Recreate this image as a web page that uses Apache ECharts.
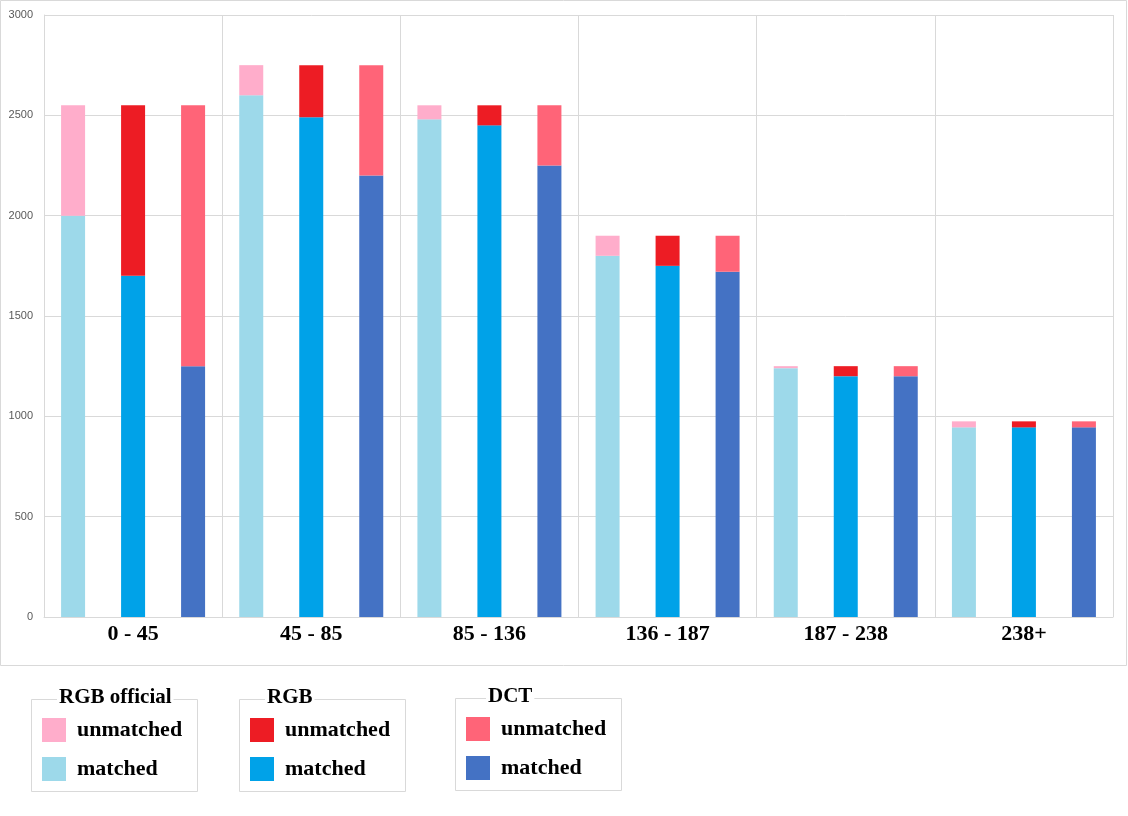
<!DOCTYPE html>
<html>
<head>
<meta charset="utf-8">
<script src="https://cdn.jsdelivr.net/npm/echarts@6/dist/echarts.min.js"></script>
<style>
  html, body { margin: 0; padding: 0; background: #fff; }
  #chart { width: 1128px; height: 816px; }
</style>
</head>
<body>
<div id="chart"></div>
<script>
const categories = ['0 - 45', '45 - 85', '85 - 136', '136 - 187', '187 - 238', '238+'];
const yTicks = [0, 500, 1000, 1500, 2000, 2500, 3000];

const officialMatched   = [2000, 2600, 2480, 1800, 1240, 945];
const officialUnmatched = [550, 150, 70, 100, 10, 30];
const rgbMatched        = [1700, 2490, 2450, 1750, 1200, 945];
const rgbUnmatched      = [850, 260, 100, 150, 50, 30];
const dctMatched        = [1250, 2200, 2250, 1720, 1200, 945];
const dctUnmatched      = [1300, 550, 300, 180, 50, 30];

const groupTitles = ['RGB official', 'RGB', 'DCT'];

const colors = {
  offU: '#FFADCB', offM: '#9DD9EA',
  rgbU: '#ED1C24', rgbM: '#00A2E8',
  dctU: '#FF6478', dctM: '#4472C4'
};

const serif = '"Liberation Serif", "DejaVu Serif", serif';
const grid = '#d9d9d9';

function bar(name, stack, data, color) {
  return {
    name: name, type: 'bar', stack: stack, data: data,
    barWidth: 24, barGap: '150%',
    itemStyle: { color: color },
    emphasis: { disabled: true }
  };
}

const series = [
  bar('RGB official matched', 'off', officialMatched, colors.offM),
  bar('RGB official unmatched', 'off', officialUnmatched, colors.offU),
  bar('RGB matched', 'rgb', rgbMatched, colors.rgbM),
  bar('RGB unmatched', 'rgb', rgbUnmatched, colors.rgbU),
  bar('DCT matched', 'dct', dctMatched, colors.dctM),
  bar('DCT unmatched', 'dct', dctUnmatched, colors.dctU)
];

const boxLefts = [31, 239, 455];
const boxTops = [699, 699, 698];
const titleOffsets = [28, 28, 33];

const legends = groupTitles.map((t, i) => ({
  orient: 'vertical',
  left: boxLefts[i] + 11,
  top: boxTops[i] + 19,
  padding: 0,
  itemWidth: 24,
  itemHeight: 24,
  itemGap: 15,
  icon: 'rect',
  selectedMode: false,
  data: [t + ' unmatched', t + ' matched'],
  formatter: name => name.split(' ').pop(),
  textStyle: {
    fontFamily: serif, fontWeight: 'bold', fontSize: 22, color: '#000',
    padding: [0, 0, 0, 6], lineHeight: 24
  }
}));

const graphics = [
  { type: 'rect', silent: true, z: -1,
    shape: { x: 0.5, y: 0.5, width: 1126, height: 665 },
    style: { fill: 'none', stroke: grid, lineWidth: 1 } }
];
groupTitles.forEach((t, i) => {
  graphics.push({ type: 'rect', silent: true,
    shape: { x: boxLefts[i] + 0.5, y: boxTops[i] + 0.5, width: 166, height: 92 },
    style: { fill: 'none', stroke: grid, lineWidth: 1 } });
  graphics.push({ type: 'text', silent: true, z: 10,
    left: boxLefts[i] + titleOffsets[i] - 2, top: boxTops[i] - 12,
    style: { text: t, font: 'bold 21px ' + serif, fill: '#000',
      backgroundColor: '#fff', padding: [0, 2, 0, 2] } });
});

const chart = echarts.init(document.getElementById('chart'), null, { renderer: 'canvas' });
chart.setOption({
  animation: false,
  backgroundColor: '#fff',
  grid: { left: 44, right: 15, top: 15, bottom: 199, containLabel: false },
  xAxis: {
    type: 'category',
    data: categories,
    axisLine: { show: true, lineStyle: { color: grid } },
    axisTick: { show: false },
    splitLine: { show: true, lineStyle: { color: grid } },
    axisLabel: { fontFamily: serif, fontWeight: 'bold', fontSize: 22, color: '#000', margin: 6 }
  },
  yAxis: {
    type: 'value', min: yTicks[0], max: yTicks[yTicks.length - 1], interval: yTicks[1] - yTicks[0],
    axisLine: { show: true, lineStyle: { color: grid } },
    axisTick: { show: false },
    splitLine: { show: true, lineStyle: { color: grid } },
    axisLabel: { fontFamily: '"Liberation Sans", Arial, sans-serif', fontSize: 11, color: '#595959', margin: 11,
      formatter: v => String(v) }
  },
  legend: legends,
  graphic: graphics,
  series: series
});
</script>
</body>
</html>
